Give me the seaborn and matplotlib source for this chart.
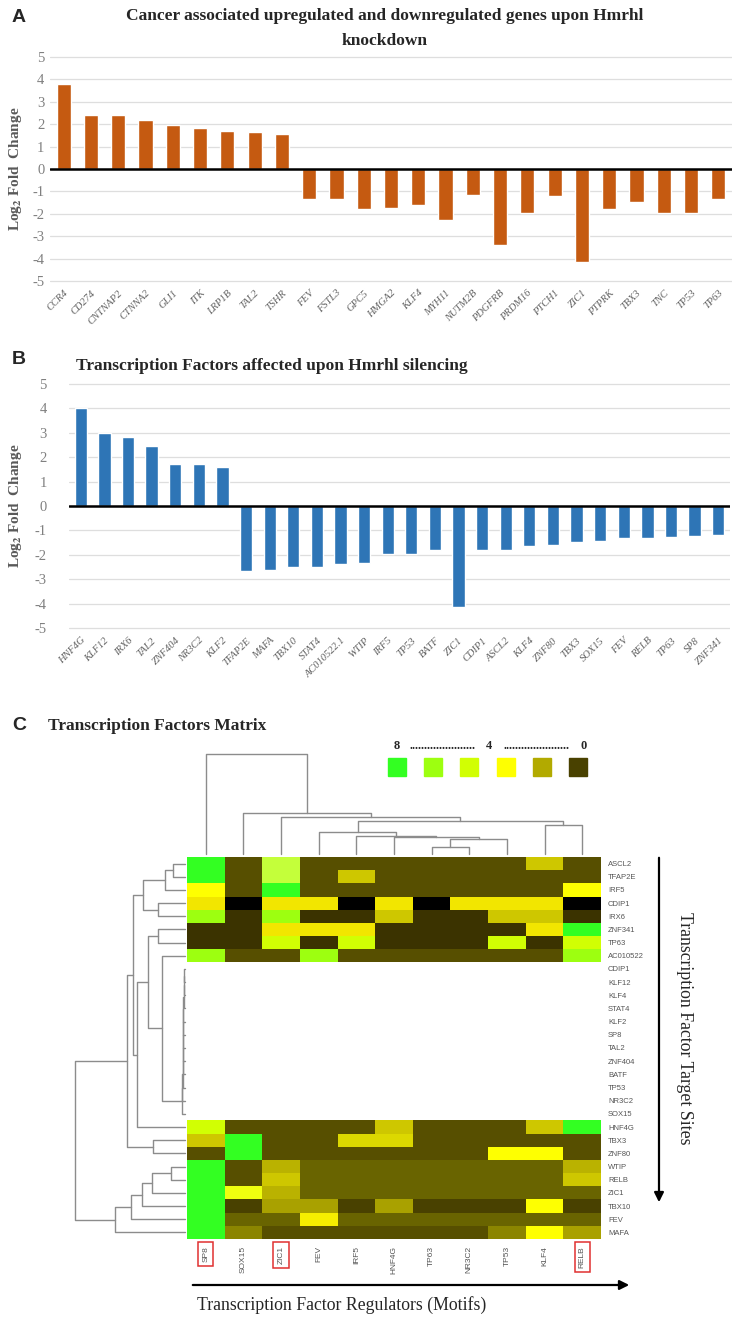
import numpy as np
import pandas as pd
import matplotlib
matplotlib.use("Agg")
import matplotlib.pyplot as plt
import seaborn as sns
from matplotlib.colors import LinearSegmentedColormap
from matplotlib.patches import Rectangle, FancyArrowPatch

# ---------------- data ----------------
genes_a = ["CCR4", "CD274", "CNTNAP2", "CTNNA2", "GLI1", "ITK", "LRP1B", "TAL2", "TSHR",
           "FEV", "FSTL3", "GPC5", "HMGA2", "KLF4", "MYH11", "NUTM2B", "PDGFRB", "PRDM16",
           "PTCH1", "ZIC1", "PTPRK", "TBX3", "TNC", "TP53", "TP63"]
lfc_a = [3.80, 2.43, 2.40, 2.19, 1.96, 1.84, 1.69, 1.66, 1.57,
         -1.32, -1.32, -1.80, -1.73, -1.61, -2.29, -1.17, -3.39, -1.98,
         -1.21, -4.15, -1.80, -1.47, -1.95, -1.95, -1.32]

tfs_b = ["HNF4G", "KLF12", "IRX6", "TAL2", "ZNF404", "NR3C2", "KLF2", "TFAP2E", "MAFA",
         "TBX10", "STAT4", "AC010522.1", "WTIP", "IRF5", "TP53", "BATF", "ZIC1", "CDIP1",
         "ASCL2", "KLF4", "ZNF80", "TBX3", "SOX15", "FEV", "RELB", "TP63", "SP8", "ZNF341"]
lfc_b = [4.00, 2.98, 2.82, 2.45, 1.72, 1.70, 1.58, -2.67, -2.64,
         -2.50, -2.50, -2.37, -2.33, -1.95, -1.95, -1.82, -4.15, -1.81,
         -1.81, -1.62, -1.58, -1.47, -1.44, -1.33, -1.30, -1.27, -1.23, -1.19]

motifs = ["SP8", "SOX15", "ZIC1", "FEV", "IRF5", "HNF4G", "TP63", "NR3C2", "TP53", "KLF4", "RELB"]
targets = ["ASCL2", "TFAP2E", "IRF5", "CDIP1", "IRX6", "ZNF341", "TP63", "AC010522",
           "CDIP1", "KLF12", "KLF4", "STAT4", "KLF2", "SP8", "TAL2", "ZNF404", "BATF",
           "TP53", "NR3C2", "SOX15", "HNF4G", "TBX3", "ZNF80", "WTIP", "RELB", "ZIC1",
           "TBX10", "FEV", "MAFA"]
N = np.nan
scores = [
    [8, 2, 6.5, 2, 2, 2, 2, 2, 2, 4, 2],
    [8, 2, 6.5, 2, 4, 2, 2, 2, 2, 2, 2],
    [5, 2, 8, 2, 2, 2, 2, 2, 2, 2, 5],
    [4.7, 0, 4.7, 4.7, 0, 4.7, 0, 4.7, 4.7, 4.7, 0],
    [7, 1, 7, 1, 1, 4, 1, 1, 4, 4, 1],
    [1, 1, 4.7, 4.7, 4.7, 1, 1, 1, 1, 4.7, 8],
    [1, 1, 6, 1, 6, 1, 1, 1, 6, 1, 6],
    [7, 2, 2, 7, 2, 2, 2, 2, 2, 2, 7],
] + [[N] * 11 for _ in range(12)] + [
    [6, 2, 2, 2, 2, 4, 2, 2, 2, 4, 8],
    [4, 8, 2, 2, 4.3, 4.3, 2, 2, 2, 2, 2],
    [2, 8, 2, 2, 2, 2, 2, 2, 5, 5, 2],
    [8, 2, 3.7, 2.5, 2.5, 2.5, 2.5, 2.5, 2.5, 2.5, 3.7],
    [8, 2, 4, 2.5, 2.5, 2.5, 2.5, 2.5, 2.5, 2.5, 4],
    [8, 5.5, 3.7, 2.5, 2.5, 2.5, 2.5, 2.5, 2.5, 2.5, 2.5],
    [8, 1.5, 3.5, 3.5, 1.5, 3.5, 1.5, 1.5, 1.5, 5, 1.5],
    [8, 2.5, 2.5, 4.8, 2.5, 2.5, 2.5, 2.5, 2.5, 2.5, 2.5],
    [8, 3, 2, 2, 2, 2, 2, 2, 3, 5, 3.5],
]
legend_levels = [8, 7, 6, 5, 3.6, 1.5]

# dendrogram merges: (child_a, child_b, height); new node ids follow leaves
col_merges = [(6, 7, 20), (11, 8, 45), (5, 12, 50), (4, 13, 52), (3, 14, 65),
              (9, 10, 87), (15, 16, 97), (2, 17, 110), (1, 18, 122), (0, 19, 297)]
row_merges = [(0, 1, 35), (29, 2, 60), (3, 4, 80), (30, 31, 127), (5, 6, 80),
              (8, 9, 3), (34, 10, 3.5), (35, 11, 4), (36, 12, 4.5), (37, 13, 5),
              (38, 14, 5.5), (39, 15, 6), (40, 16, 6.5), (41, 17, 7), (42, 18, 7.5),
              (43, 19, 9), (7, 44, 69), (33, 45, 111), (46, 20, 145), (32, 47, 157),
              (21, 22, 95), (48, 49, 175), (23, 24, 42), (51, 25, 99), (52, 26, 129),
              (53, 27, 162), (54, 28, 210), (50, 55, 330)]

# ---------------- style ----------------
sns.set_style("white")
plt.rcParams["font.family"] = ["Liberation Serif", "DejaVu Serif"]
plt.rcParams["mathtext.fontset"] = "stix"
plt.rcParams["axes.unicode_minus"] = False

W, H = 736, 1317
fig = plt.figure(figsize=(W / 100, H / 100), dpi=100)


def ax_px(l, t, r, b):
    return fig.add_axes([l / W, 1 - b / H, (r - l) / W, (b - t) / H])


def bar_panel(ax, cats, vals, color, left, right, tick_pad):
    sns.barplot(x=cats, y=vals, color=color, saturation=1, width=0.52, ax=ax, zorder=3)
    ax.set_ylim(-5.2, 5.2)
    ax.set_xlim(-0.5, len(cats) - 0.5)
    ax.set_yticks(range(-5, 6))
    ax.yaxis.grid(True, color="#dedede", lw=0.9)
    ax.set_axisbelow(True)
    ax.axhline(0, color="black", lw=1.8, zorder=4)
    for s in ax.spines.values():
        s.set_visible(False)
    ax.set_xticks(range(len(cats)))
    ax.set_xticklabels(cats, rotation=45, ha="right", rotation_mode="anchor",
                       fontsize=7.5, color="#606060", style="italic")
    ax.tick_params(axis="x", length=0, pad=2)
    ax.tick_params(axis="y", length=0, labelsize=10.5, labelcolor="#808080", pad=tick_pad)
    ax.set_ylabel(r"Log$_\mathbf{2}$ Fold  Change", fontsize=11, fontweight="bold",
                  color="#595959")
    ax.yaxis.set_label_coords((24 - left) / (right - left), 0.5)


# Panel A
axA = ax_px(50, 52.5, 732, 285.5)
bar_panel(axA, genes_a, lfc_a, "#c55a11", 50, 732, 4)
fig.text(385 / W, 1 - 16 / H, "Cancer associated upregulated and downregulated genes upon Hmrhl",
         ha="center", va="center", fontsize=12.5, fontweight="bold")
fig.text(385 / W, 1 - 41 / H, "knockdown", ha="center", va="center", fontsize=12.5,
         fontweight="bold")
fig.text(12 / W, 1 - 18 / H, "A", fontsize=14, fontweight="bold", family="Liberation Sans",
         va="center")

# Panel B
axB = ax_px(69, 379, 730, 633)
bar_panel(axB, tfs_b, lfc_b, "#2e75b6", 69, 730, 16)
fig.text(76 / W, 1 - 366 / H, "Transcription Factors affected upon Hmrhl silencing",
         ha="left", va="center", fontsize=12.5, fontweight="bold")
fig.text(12 / W, 1 - 360 / H, "B", fontsize=14, fontweight="bold", family="Liberation Sans",
         va="center")

# Panel C
fig.text(12 / W, 1 - 726 / H, "C", fontsize=14, fontweight="bold", family="Liberation Sans",
         va="center")
fig.text(48 / W, 1 - 726 / H, "Transcription Factors Matrix", ha="left", va="center",
         fontsize=12.5, fontweight="bold")

nodes = [(0, "#000000"), (1, "#3b3300"), (2, "#574f00"), (2.5, "#686300"), (3, "#8a8400"),
         (3.5, "#a8a000"), (3.7, "#bab200"), (4, "#cdc600"), (4.3, "#dcd800"),
         (4.7, "#f2e600"), (5, "#ffff00"), (5.5, "#f0ff10"), (6, "#d2ff00"),
         (6.5, "#c6ff3c"), (7, "#a0ff10"), (8, "#33ff22")]
cmap = LinearSegmentedColormap.from_list("tfm", [(v / 8, c) for v, c in nodes])

df = pd.DataFrame(scores, index=targets, columns=motifs)
axH = ax_px(187, 857, 601, 1239)
sns.heatmap(df, cmap=cmap, vmin=0, vmax=8, cbar=False, ax=axH,
            xticklabels=True, yticklabels=True)
axH.yaxis.tick_right()
axH.set_yticklabels(targets, rotation=0, fontsize=5.5, color="#555555",
                    family="Liberation Sans")
axH.set_xticklabels(motifs, rotation=90, fontsize=6, color="#555555",
                    family="Liberation Sans")
axH.tick_params(length=0, pad=5)
axH.set_xlabel("")
axH.set_ylabel("")
for lbl in axH.get_xticklabels():
    if lbl.get_text() in ("SP8", "ZIC1", "RELB"):
        lbl.set_bbox(dict(facecolor="none", edgecolor="#e03030", lw=1.1, pad=3))


def dendro_segments(n, merges):
    pos = {i: i + 0.5 for i in range(n)}
    hgt = {i: 0.0 for i in range(n)}
    segs = []
    for k, (a, b, h) in enumerate(merges):
        segs.append(([pos[a], pos[a], pos[b], pos[b]], [hgt[a], h, h, hgt[b]]))
        pos[n + k] = (pos[a] + pos[b]) / 2
        hgt[n + k] = h
    return segs


axD = ax_px(187, 754, 601, 854)
for xs, ys in dendro_segments(len(motifs), col_merges):
    axD.plot(xs, ys, color="#8c8c8c", lw=1, clip_on=False)
axD.set_xlim(0, len(motifs))
axD.set_ylim(0, max(m[2] for m in col_merges))
axD.axis("off")

axR = ax_px(75, 857, 185, 1239)
for xs, ys in dendro_segments(len(targets), row_merges):
    axR.plot(ys, xs, color="#8c8c8c", lw=1, clip_on=False)
axR.set_xlim(max(m[2] for m in row_merges), 0)
axR.set_ylim(len(targets), 0)
axR.axis("off")

# legend
axL = ax_px(380, 740, 595, 780)
axL.set_xlim(380, 595)
axL.set_ylim(780, 740)
axL.axis("off")
for i, lv in enumerate(legend_levels):
    axL.add_patch(Rectangle((388 + 36.2 * i, 758), 18, 18, color=cmap(lv / 8)))
for x, t in [(397, "8"), (489, "4"), (584, "0")]:
    axL.text(x, 746, t, ha="center", va="center", fontsize=9, fontweight="bold")
for x in (443, 536.5):
    axL.text(x, 746, "." * 22, ha="center", va="center", fontsize=9, fontweight="bold")

# arrows and axis titles
fig.add_artist(FancyArrowPatch((659 / W, 1 - 855 / H), (659 / W, 1 - 1205 / H),
                               transform=fig.transFigure, arrowstyle="-|>",
                               mutation_scale=14, lw=1.6, color="black"))
fig.text(684 / W, 1 - 1028 / H, "Transcription Factor Target Sites", rotation=270,
         ha="center", va="center", fontsize=12.8)
fig.add_artist(FancyArrowPatch((190 / W, 1 - 1285 / H), (632 / W, 1 - 1285 / H),
                               transform=fig.transFigure, arrowstyle="-|>",
                               mutation_scale=14, lw=1.6, color="black"))
fig.text(342 / W, 1 - 1305 / H, "Transcription Factor Regulators (Motifs)",
         ha="center", va="center", fontsize=12.8)

fig.savefig("out.png", dpi=100, facecolor="white")
